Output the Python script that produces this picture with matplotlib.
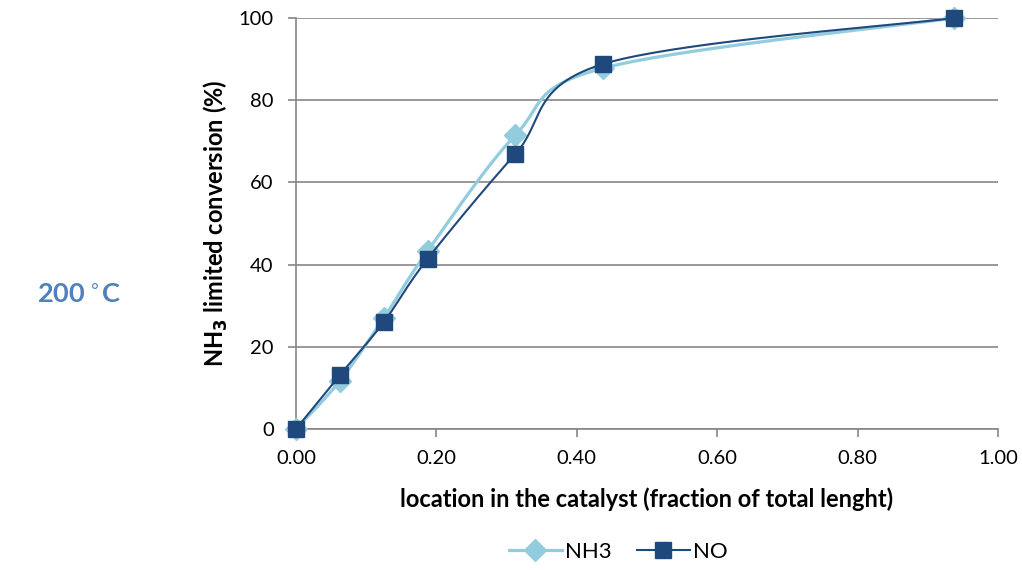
import numpy as np
import matplotlib.pyplot as plt

plt.rcParams['font.family'] = ['Lato', 'DejaVu Sans']
plt.rcParams['font.size'] = 14

# data
location = [0.0, 0.0625, 0.125, 0.1875, 0.3125, 0.4375, 0.9375]
nh3 = [0.0, 11.7, 27.0, 43.3, 71.5, 87.8, 100.0]
no = [0.0, 13.1, 26.0, 41.4, 66.9, 88.8, 100.0]


def smooth(xs, ys, n=40):
    # Excel-like smoothed line: cubic Bezier through every point
    p = np.column_stack([xs, ys])
    ext = np.vstack([p[0], p, p[-1]])
    t = np.linspace(0, 1, n)[:, None]
    segs = []
    for i in range(len(p) - 1):
        p0, p1, p2, p3 = ext[i], ext[i + 1], ext[i + 2], ext[i + 3]
        c1 = p1 + (p2 - p0) / 6
        c2 = p2 - (p3 - p1) / 6
        b = ((1 - t) ** 3) * p1 + 3 * ((1 - t) ** 2) * t * c1 \
            + 3 * (1 - t) * t ** 2 * c2 + t ** 3 * p2
        segs.append(b)
    c = np.vstack(segs)
    return c[:, 0], c[:, 1]


fig = plt.figure(figsize=(10.22, 5.7), dpi=100)
ax = fig.add_axes([0.2896, 0.2474, 0.6869, 0.7210])

c_nh3 = '#93cddd'
c_no = '#1f497d'

sx, sy = smooth(location, nh3)
ax.plot(sx, sy, color=c_nh3, lw=2.3, zorder=3, clip_on=False)
ax.plot(location, nh3, ls='none', marker='D', ms=11, color=c_nh3,
        zorder=4, clip_on=False)
sx, sy = smooth(location, no)
ax.plot(sx, sy, color=c_no, lw=1.5, zorder=5, clip_on=False)
ax.plot(location, no, ls='none', marker='s', ms=11, color=c_no,
        zorder=6, clip_on=False)

# legend proxies
h1, = ax.plot([], [], color=c_nh3, lw=2.3, marker='D', ms=11, label='NH3')
h2, = ax.plot([], [], color=c_no, lw=1.5, marker='s', ms=11, label='NO')
fig.legend(handles=[h1, h2], loc='center', bbox_to_anchor=(0.605, 0.032),
           ncol=2, frameon=False, fontsize=16, handlelength=2.4,
           columnspacing=1.1, handletextpad=0.15)

ax.set_xlim(0, 1)
ax.set_ylim(0, 100)
ax.set_xticks(np.arange(0, 1.01, 0.2))
ax.set_xticklabels(['%.2f' % v for v in np.arange(0, 1.01, 0.2)])
ax.set_yticks(np.arange(0, 101, 20))
ax.yaxis.grid(True, color='#868686', lw=1.2)
ax.set_axisbelow(True)
for s in ['top', 'right']:
    ax.spines[s].set_visible(False)
for s in ['left', 'bottom']:
    ax.spines[s].set_color('#868686')
    ax.spines[s].set_linewidth(1.2)
ax.tick_params(axis='both', direction='out', color='#868686', length=6,
               width=1.2, labelsize=14.5)
ax.tick_params(axis='y', pad=10)
ax.tick_params(axis='x', pad=9)

ax.set_xlabel('location in the catalyst (fraction of total lenght)',
              fontweight='bold', fontsize=17, labelpad=15)
ax.set_ylabel('NH$_\\mathbf{3}$ limited conversion (%)', fontweight='bold',
              fontsize=17, labelpad=6)

fig.text(0.036, 0.483, '200$\\,^{\\circ}$C', color='#4f81bd', fontsize=19.5,
         fontweight='bold', va='center', ha='left')

fig.savefig('out.png', dpi=100)
